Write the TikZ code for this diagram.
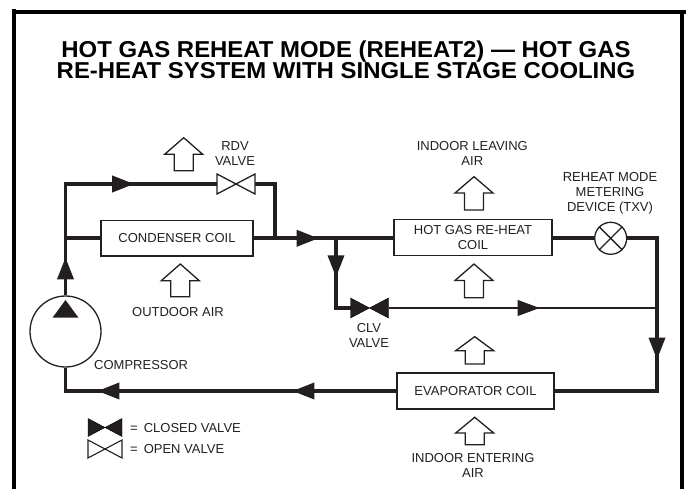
\documentclass[tikz,border=0pt]{standalone}
\usepackage{fontspec}
\setmainfont{Liberation Sans}
\newfontfamily\titlefamily[FakeStretch=1.04]{Liberation Sans}
\usetikzlibrary{arrows.meta,decorations.markings}
\definecolor{inkgray}{HTML}{231F20}
\tikzset{
  pipe/.style={line width=3.6pt,color=inkgray},
  thinpipe/.style={line width=1.1pt,color=inkgray},
  flowat/.style={postaction={decorate,decoration={markings,
    mark=at position #1 with {\arrow[inkgray]{Triangle[length=22pt,width=16pt]}}}}},
  coil/.style={draw=inkgray,line width=1.3pt,fill=white,inner sep=0pt,align=center,font=\labeltext,text=inkgray},
  lbl/.style={inner sep=0pt,align=center,font=\labeltext,text=inkgray},
  valve/.style={inner sep=0pt,outer sep=0pt,minimum width=38pt,minimum height=20pt},
  airflow/.style={draw=inkgray,line width=1.3pt,fill=white,line join=miter},
  frameline/.style={line width=4pt,color=black}
}
\newcommand{\labeltext}{\fontsize{13}{15}\selectfont}
\newcommand{\titletext}{\titlefamily\fontsize{23}{19}\selectfont\bfseries}
\newcommand{\valvetie}[2]{\draw[#2] (#1.north west)--(#1.south east)--(#1.north east)--(#1.south west)--cycle;}
\newcommand{\airarrow}[4]{\draw[airflow] (#1,#2)--({#1+19},#3)--({#1+9.5},#3)--({#1+9.5},#4)--({#1-9.5},#4)--({#1-9.5},#3)--({#1-19},#3)--cycle;}
\begin{document}
\begin{tikzpicture}[x=1pt,y=-1pt]
\useasboundingbox (0,0) rectangle (686,489);
\draw[frameline] (14,9)--(14,489) (12,12)--(686,12) (682,12)--(682,489);
\node[inner sep=0pt,align=center,font=\titletext,text=black] (title) at (346,59.5)
  {HOT GAS REHEAT MODE (REHEAT2) — HOT GAS\\[-0.5pt]RE-HEAT SYSTEM WITH SINGLE STAGE COOLING};
% coils and devices
\node[coil,minimum width=152pt,minimum height=35.5pt] (cond) at (177,238.3) {CONDENSER COIL};
\node[coil,minimum width=158pt,minimum height=36pt] (hot) at (473,237.2) {HOT GAS RE-HEAT\\COIL};
\node[coil,minimum width=157pt,minimum height=36pt] (evap) at (475.5,391) {EVAPORATOR COIL};
\node[draw=inkgray,line width=1.3pt,circle,inner sep=0pt,minimum size=71pt] (comp) at (65.5,331.5) {};
\node[draw=inkgray,line width=1.3pt,circle,inner sep=0pt,minimum size=32pt] (txv) at (610.7,238.3) {};
\draw[inkgray,line width=1.3pt] (txv.north west)--(txv.south east) (txv.north east)--(txv.south west);
\node[valve] (rdv) at (236,184) {};
\node[valve] (clv) at (369.5,308) {};
\coordinate (jleft) at (65.5,238.3);
\coordinate (jrdv) at (275,238.3);
\coordinate (jclv) at (336,238.3);
\coordinate (jhotin) at (394,238.3);
\coordinate (jhotout) at (552,238.3);
\coordinate (jtop) at (657,238.3);
\coordinate (jthin) at (657,308);
\coordinate (jevap) at (657,391);
% pipes
\draw[pipe,flowat=38pt] (comp.north)--(jleft);
\draw[pipe] (jleft)--(cond.west);
\draw[pipe,flowat=123pt] (jleft)|-(rdv.west);
\draw[pipe] (rdv.east)-|(jrdv);
\draw[pipe,flowat=65pt] (cond.east)--(jhotin);
\draw[pipe,flowat=39pt] (jclv)|-(clv.west);
\draw[thinpipe,flowat=151pt] (clv.east)--(jthin);
\draw[pipe] (jhotout)--(txv.west);
\draw[pipe,flowat=151pt] (txv.east)--(jtop)--(jevap)--(evap.east);
\draw[pipe,flowat=104pt,flowat=299pt] (evap.west)-|(comp.south);
\fill[inkgray] (52.5,317.7)--(65.5,300)--(78.5,317.7)--cycle;
% valves
\valvetie{rdv}{draw=inkgray,line width=1.3pt,fill=white}
\valvetie{clv}{fill=inkgray}
% air arrows
\airarrow{183.7}{137.7}{154.3}{170.7}
\airarrow{180.3}{264}{280.7}{296.7}
\airarrow{474}{176.7}{193}{210}
\airarrow{474}{264}{280.5}{297.7}
\airarrow{474.7}{336.7}{350.7}{364}
\airarrow{474.7}{417.3}{433}{444.7}
% labels
\node[lbl] (rdvlabel) at (235,154) {RDV\\VALVE};
\node[lbl] (outdoor) at (178,311.7) {OUTDOOR AIR};
\node[lbl,anchor=west] (complabel) at (94,365) {COMPRESSOR};
\node[lbl] (leaving) at (472.3,153.7) {INDOOR LEAVING\\AIR};
\node[lbl] (txvlabel) at (610,193) {REHEAT MODE\\METERING\\DEVICE (TXV)};
\node[lbl] (clvlabel) at (369,335) {CLV\\VALVE};
\node[lbl] (entering) at (473,465.5) {INDOOR ENTERING\\AIR};
% legend
\node[valve,minimum width=34pt,minimum height=18pt] (keyclosed) at (105,427.5) {};
\node[valve,minimum width=34pt,minimum height=18pt] (keyopen) at (105,449) {};
\valvetie{keyclosed}{fill=inkgray}
\valvetie{keyopen}{draw=inkgray,line width=1.1pt,fill=white}
\node[lbl,anchor=west] (closedtext) at (130,428) {=\hspace{6pt}CLOSED VALVE};
\node[lbl,anchor=west] (opentext) at (130,449) {=\hspace{6pt}OPEN VALVE};
\end{tikzpicture}
\end{document}
